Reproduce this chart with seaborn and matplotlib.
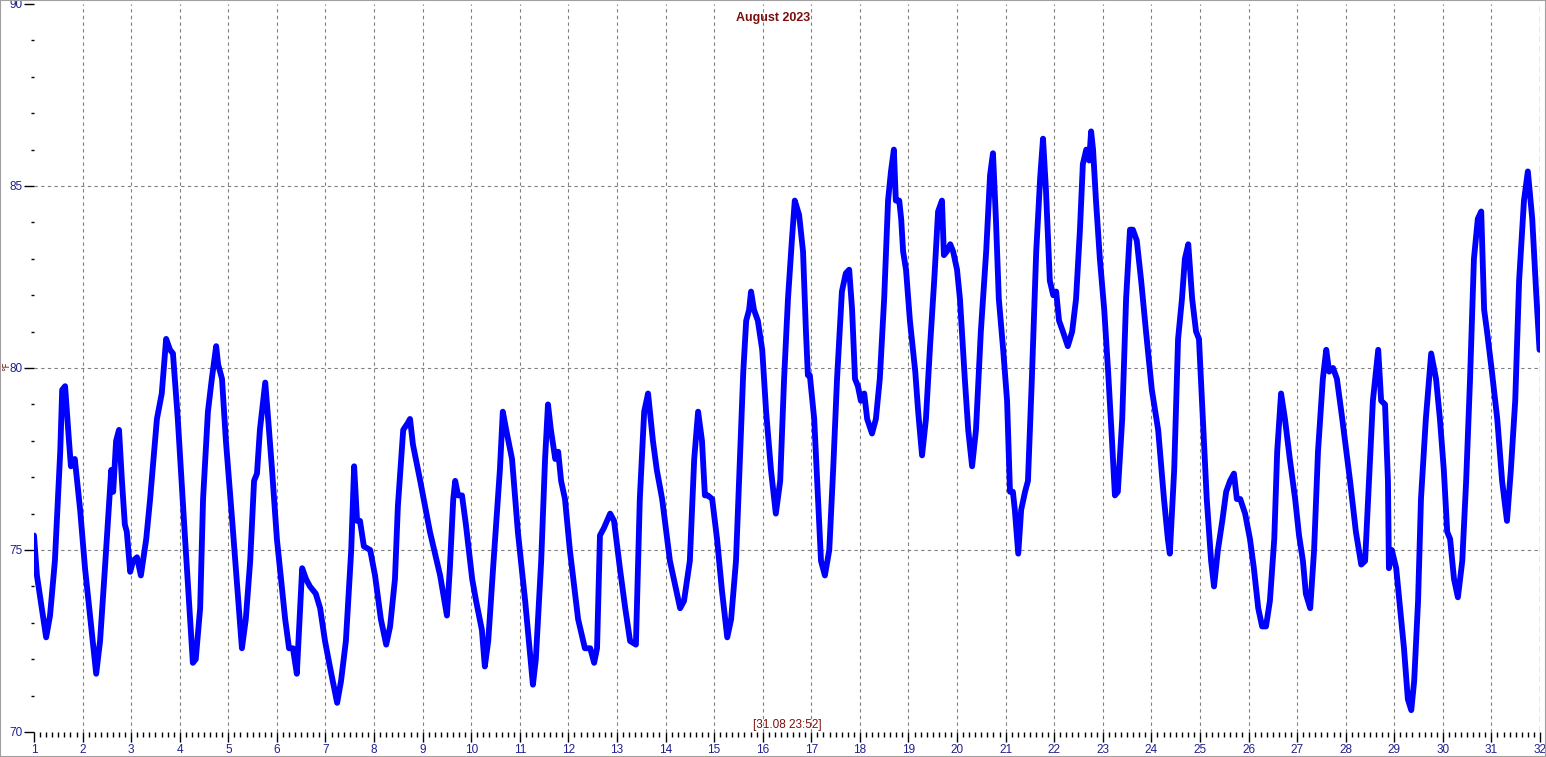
import matplotlib
matplotlib.use("Agg")
import matplotlib.pyplot as plt
import seaborn as sns
import pandas as pd
from matplotlib.ticker import MultipleLocator
from matplotlib.patches import Rectangle

# hourly-ish temperature trace (day of month, deg F)
days = [1.00, 1.06, 1.25, 1.33, 1.43, 1.54, 1.58, 1.64, 1.72, 1.76, 1.84, 1.95, 2.05, 2.28, 2.36, 2.46,
        2.59, 2.63, 2.69, 2.75, 2.81, 2.87, 2.91, 2.98, 3.04, 3.12, 3.20, 3.31, 3.39, 3.53, 3.63, 3.72,
        3.80, 3.86, 3.96, 4.11, 4.27, 4.33, 4.42, 4.48, 4.58, 4.66, 4.75, 4.79, 4.87, 4.95, 5.08, 5.28,
        5.36, 5.45, 5.53, 5.59, 5.65, 5.76, 5.82, 5.90, 6.00, 6.17, 6.25, 6.33, 6.41, 6.52, 6.60, 6.68,
        6.80, 6.89, 6.99, 7.09, 7.24, 7.32, 7.42, 7.53, 7.59, 7.65, 7.71, 7.79, 7.92, 8.02, 8.14, 8.25,
        8.33, 8.43, 8.49, 8.60, 8.70, 8.74, 8.80, 8.95, 9.15, 9.36, 9.50, 9.56, 9.63, 9.67, 9.73, 9.81,
        9.89, 10.02, 10.10, 10.22, 10.28, 10.35, 10.45, 10.59, 10.65, 10.72, 10.84, 10.96, 11.11, 11.27,
        11.33, 11.44, 11.52, 11.58, 11.64, 11.73, 11.79, 11.85, 11.93, 12.03, 12.20, 12.34, 12.45, 12.53,
        12.59, 12.65, 12.73, 12.86, 12.94, 13.06, 13.17, 13.27, 13.39, 13.47, 13.56, 13.64, 13.74, 13.82,
        13.93, 14.09, 14.22, 14.30, 14.38, 14.50, 14.59, 14.67, 14.75, 14.81, 14.87, 14.96, 15.06, 15.16,
        15.27, 15.35, 15.45, 15.53, 15.60, 15.66, 15.72, 15.76, 15.82, 15.90, 15.99, 16.07, 16.17, 16.27,
        16.36, 16.44, 16.52, 16.60, 16.66, 16.75, 16.83, 16.89, 16.93, 16.97, 17.06, 17.14, 17.20, 17.28,
        17.37, 17.45, 17.53, 17.63, 17.71, 17.78, 17.84, 17.90, 17.96, 18.02, 18.09, 18.15, 18.25, 18.33,
        18.41, 18.50, 18.58, 18.64, 18.70, 18.74, 18.81, 18.85, 18.89, 18.95, 19.03, 19.14, 19.20, 19.28,
        19.36, 19.44, 19.53, 19.61, 19.69, 19.73, 19.79, 19.86, 19.92, 20.00, 20.06, 20.16, 20.23, 20.31,
        20.39, 20.49, 20.60, 20.68, 20.74, 20.80, 20.86, 20.95, 21.03, 21.09, 21.15, 21.19, 21.26, 21.32,
        21.40, 21.46, 21.54, 21.63, 21.71, 21.77, 21.83, 21.91, 21.98, 22.04, 22.10, 22.18, 22.28, 22.37,
        22.45, 22.53, 22.59, 22.66, 22.72, 22.76, 22.80, 22.86, 22.94, 23.03, 23.11, 23.19, 23.25, 23.31,
        23.40, 23.48, 23.56, 23.62, 23.70, 23.79, 23.89, 24.01, 24.14, 24.26, 24.34, 24.38, 24.47, 24.55,
        24.63, 24.69, 24.76, 24.84, 24.92, 24.98, 25.06, 25.14, 25.23, 25.29, 25.37, 25.46, 25.54, 25.62,
        25.70, 25.76, 25.83, 25.93, 26.03, 26.11, 26.20, 26.28, 26.36, 26.44, 26.53, 26.59, 26.67, 26.75,
        26.85, 26.96, 27.04, 27.12, 27.18, 27.27, 27.35, 27.43, 27.53, 27.60, 27.66, 27.74, 27.82, 27.93,
        28.09, 28.21, 28.32, 28.40, 28.48, 28.56, 28.67, 28.73, 28.81, 28.87, 28.89, 28.95, 29.04, 29.12,
        29.20, 29.28, 29.35, 29.41, 29.49, 29.55, 29.65, 29.76, 29.86, 29.94, 30.02, 30.09, 30.15, 30.23,
        30.31, 30.40, 30.48, 30.56, 30.64, 30.72, 30.79, 30.85, 30.91, 31.01, 31.12, 31.22, 31.32, 31.40,
        31.49, 31.57, 31.67, 31.75, 31.84, 31.92, 31.99]

temps = [75.4, 74.3, 72.6, 73.2, 74.7, 77.7, 79.4, 79.5, 78.0, 77.3, 77.5, 76.1, 74.5, 71.6, 72.5, 74.5,
         77.2, 76.6, 78.0, 78.3, 76.9, 75.7, 75.5, 74.4, 74.7, 74.8, 74.3, 75.3, 76.4, 78.6, 79.3, 80.8,
         80.5, 80.4, 78.6, 75.3, 71.9, 72.0, 73.4, 76.4, 78.8, 79.7, 80.6, 80.1, 79.7, 78.0, 75.8, 72.3,
         73.1, 74.7, 76.9, 77.1, 78.3, 79.6, 78.6, 77.2, 75.3, 73.1, 72.3, 72.3, 71.6, 74.5, 74.2, 74.0,
         73.8, 73.4, 72.5, 71.8, 70.8, 71.4, 72.5, 75.0, 77.3, 75.8, 75.8, 75.1, 75.0, 74.3, 73.1, 72.4,
         72.9, 74.2, 76.2, 78.3, 78.5, 78.6, 77.9, 76.9, 75.5, 74.3, 73.2, 74.5, 76.4, 76.9, 76.5, 76.5,
         75.7, 74.2, 73.6, 72.8, 71.8, 72.5, 74.5, 77.2, 78.8, 78.3, 77.5, 75.5, 73.6, 71.3,
         72.0, 74.7, 77.5, 79.0, 78.3, 77.5, 77.7, 76.9, 76.4, 75.0, 73.1, 72.3, 72.3, 71.9,
         72.3, 75.4, 75.6, 76.0, 75.8, 74.5, 73.4, 72.5, 72.4, 76.4, 78.8, 79.3, 78.0, 77.2,
         76.4, 74.7, 73.9, 73.4, 73.6, 74.7, 77.5, 78.8, 78.0, 76.5, 76.5, 76.4, 75.3, 73.9,
         72.6, 73.1, 74.7, 77.5, 79.9, 81.3, 81.6, 82.1, 81.6, 81.3, 80.5, 78.8, 77.2, 76.0,
         76.9, 79.7, 81.9, 83.5, 84.6, 84.2, 83.2, 81.0, 79.8, 79.8, 78.6, 76.4, 74.7, 74.3,
         75.0, 77.2, 79.7, 82.1, 82.6, 82.7, 81.6, 79.7, 79.5, 79.1, 79.3, 78.6, 78.2, 78.6,
         79.7, 81.9, 84.6, 85.4, 86.0, 84.6, 84.6, 84.1, 83.2, 82.7, 81.3, 79.9, 78.8, 77.6,
         78.6, 80.5, 82.4, 84.3, 84.6, 83.1, 83.2, 83.4, 83.2, 82.7, 81.9, 79.7, 78.3, 77.3,
         78.3, 81.0, 83.2, 85.3, 85.9, 84.1, 81.9, 80.5, 79.1, 76.6, 76.6, 76.1, 74.9, 76.1,
         76.6, 76.9, 79.7, 83.2, 85.2, 86.3, 84.9, 82.4, 82.0, 82.1, 81.3, 81.0, 80.6, 81.0,
         81.9, 83.8, 85.6, 86.0, 85.7, 86.5, 86.0, 84.6, 83.0, 81.6, 79.9, 78.0, 76.5, 76.6,
         78.6, 81.9, 83.8, 83.8, 83.5, 82.4, 81.0, 79.4, 78.3, 76.4, 75.3, 74.9, 77.2, 80.8,
         81.9, 83.0, 83.4, 81.9, 81.0, 80.8, 78.6, 76.4, 74.7, 74.0, 75.0, 75.8, 76.6, 76.9,
         77.1, 76.4, 76.4, 76.0, 75.3, 74.5, 73.4, 72.9, 72.9, 73.6, 75.3, 77.7, 79.3, 78.6,
         77.5, 76.4, 75.4, 74.7, 73.8, 73.4, 75.0, 77.7, 79.7, 80.5, 79.9, 80.0, 79.7, 78.6,
         76.9, 75.5, 74.6, 74.7, 76.9, 79.1, 80.5, 79.1, 79.0, 76.9, 74.5, 75.0, 74.5, 73.4,
         72.3, 70.9, 70.6, 71.4, 73.6, 76.4, 78.6, 80.4, 79.7, 78.6, 77.2, 75.5, 75.3, 74.2,
         73.7, 74.7, 76.9, 79.7, 83.0, 84.1, 84.3, 81.6, 81.0, 79.9, 78.6, 76.9, 75.8, 77.2,
         79.1, 82.4, 84.6, 85.4, 84.1, 82.1, 80.5]

day_ticks = list(range(1, 33))
temp_ticks = [70, 75, 80, 85, 90]
title_text = "August 2023"
cursor_text = "[31.08 23:52]"
cursor_day = 31.99

df = pd.DataFrame({"day": days, "temp": temps})

sns.set_style("white")
plt.rcParams["font.family"] = ["Liberation Sans", "DejaVu Sans"]

tick_color = "#1f1f8f"
red_text = "#7a1010"

fig = plt.figure(figsize=(15.46, 7.57), dpi=100)
ax = fig.add_axes([34 / 1546, 25 / 757, 1506 / 1546, 728 / 757])

# grid, drawn only inside the frame
for d in day_ticks[1:-1]:
    ax.axvline(d, color="#808080", lw=0.8, ls=(0, (3, 3)), zorder=0)
for t in temp_ticks[1:-1]:
    ax.axhline(t, color="#808080", lw=0.8, ls=(0, (3, 3)), zorder=0)
ax.axvline(cursor_day, color="#008000", lw=0.9, ls=(0, (5, 3)), zorder=1)

sns.lineplot(data=df, x="day", y="temp", ax=ax, color="#0000ff", linewidth=4.2,
             sort=False, estimator=None, zorder=3,
             solid_joinstyle="round", solid_capstyle="round")

ax.set_xlim(1, 32)
ax.set_ylim(70, 90)
ax.set_xticks(day_ticks)
ax.set_yticks(temp_ticks)
ax.xaxis.set_minor_locator(MultipleLocator(0.125))
ax.yaxis.set_minor_locator(MultipleLocator(1))
ax.tick_params(axis="both", which="both", bottom=True, left=True, top=False, right=False)
ax.tick_params(axis="both", which="major", direction="out", length=7.5, width=1,
               color="black", labelcolor=tick_color, labelsize=8.5, pad=1)
ax.tick_params(axis="x", which="minor", direction="out", length=3.5, width=1, color="black")
ax.tick_params(axis="y", which="minor", direction="out", length=2.5, width=1, color="black")
ax.set_xlabel("")
ax.set_ylabel("")
for s in ax.spines.values():
    s.set_visible(False)

fig.text(0.5, 1 - 18 / 757, title_text, ha="center", va="center",
         color=red_text, fontsize=9, fontweight="bold")
ax.text(0.5, 0.002, cursor_text, transform=ax.transAxes, ha="center", va="bottom",
        color=red_text, fontsize=8.5)
fig.text(7 / 1546, 1 - 366 / 757, "°F", rotation=90, ha="center", va="center",
         color=red_text, fontsize=6.5, family=["DejaVu Sans"])

fig.patches.append(Rectangle((0, 0), 1, 1, transform=fig.transFigure, fill=False,
                             edgecolor="#a0a0a0", linewidth=1.5))

fig.savefig("out.png", dpi=100)
